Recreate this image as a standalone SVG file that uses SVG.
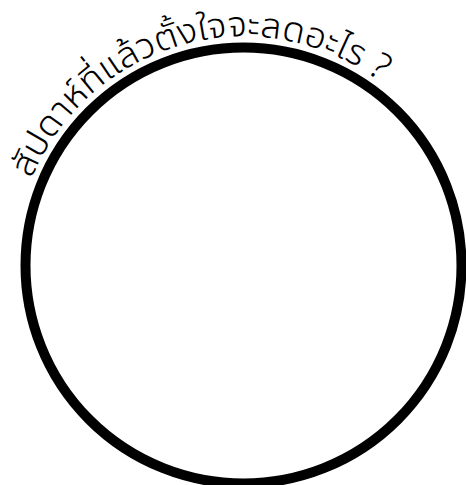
<svg xmlns="http://www.w3.org/2000/svg" width="466" height="485" viewBox="0 0 466 485">
<style>
.ring{fill:#fff;stroke:#000;stroke-width:10}
.lbl{font-family:"Noto Sans Thai UI","Noto Sans Thai","Noto Sans",sans-serif;font-size:37px;font-weight:300;fill:#000}
</style>
<defs>
<path id="arc" d="M 22.3 206.2 A 229 229 0 0 1 441.8 151"/>
</defs>
<rect width="466" height="485" fill="#fff"/>
<g id="circle"><circle class="ring" cx="243.5" cy="265.5" r="218"/></g>
<g id="title"><text class="lbl"><textPath href="#arc" startOffset="29">สัปดาห์ที่แล้วตั้งใจจะลดอะไร ?</textPath></text></g>
</svg>
